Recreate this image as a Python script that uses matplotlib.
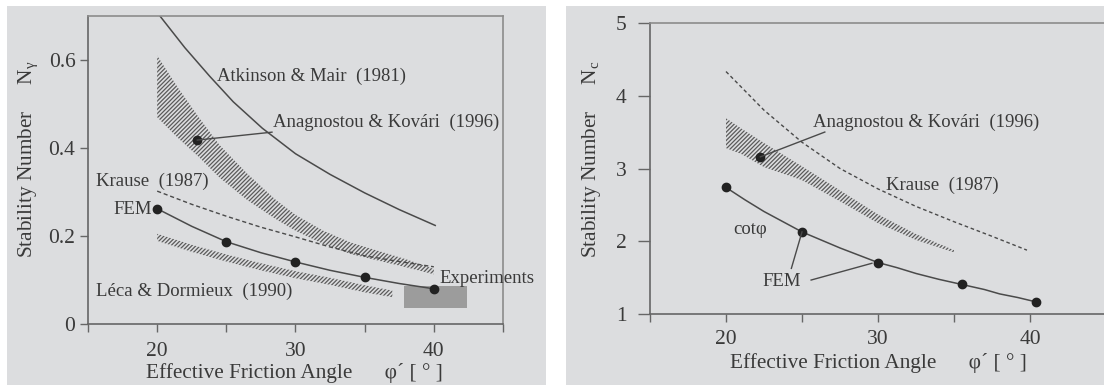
import matplotlib
matplotlib.use("Agg")
import matplotlib.pyplot as plt
from matplotlib.patches import Rectangle

plt.rcParams["font.family"] = ["Liberation Serif", "DejaVu Serif"]
plt.rcParams["mathtext.fontset"] = "custom"
plt.rcParams["mathtext.rm"] = "Liberation Serif"
plt.rcParams["mathtext.it"] = "Liberation Serif:italic"
plt.rcParams["hatch.linewidth"] = 0.9

# ---------------- left panel: N_gamma ----------------
phi_am = [20.2, 22.0, 23.8, 25.5, 27.6, 30.0, 32.5, 35.0, 37.5, 40.1]
ng_am = [0.700, 0.628, 0.563, 0.505, 0.445, 0.387, 0.340, 0.298, 0.260, 0.224]

phi_ak_l = [20, 21.5, 23, 24.5, 26.5, 28.5, 30, 32, 34, 36, 38, 40]
ng_ak_hi = [0.61, 0.537, 0.47, 0.407, 0.342, 0.284, 0.248, 0.212, 0.185, 0.166, 0.147, 0.125]
ng_ak_lo = [0.47, 0.423, 0.38, 0.333, 0.282, 0.24, 0.212, 0.182, 0.159, 0.144, 0.129, 0.113]
ak_pt_l = (22.9, 0.418)

phi_kr_l = [20, 22.5, 25, 27.5, 30, 32.5, 35, 37.5, 40]
ng_kr = [0.302, 0.272, 0.245, 0.220, 0.198, 0.175, 0.155, 0.142, 0.130]

phi_fem_l = [20, 25, 30, 35, 40]
ng_fem = [0.262, 0.187, 0.141, 0.106, 0.080]
phi_fem_l_line = [20, 22.5, 25, 27.5, 30, 32.5, 35, 37.5, 40]
ng_fem_line = [0.262, 0.222, 0.187, 0.162, 0.141, 0.122, 0.106, 0.092, 0.080]

phi_ld = [20, 22.5, 25, 27.5, 30, 32.5, 35, 37]
ng_ld_hi = [0.205, 0.180, 0.158, 0.138, 0.120, 0.105, 0.088, 0.076]
ng_ld_lo = [0.189, 0.164, 0.142, 0.122, 0.104, 0.089, 0.072, 0.061]

exp_phi = (37.85, 42.4)
exp_ng = (0.036, 0.087)

# ---------------- right panel: N_c ----------------
phi_kr_r = [20, 22.5, 25, 27.5, 30, 32.5, 35, 37.5, 39.8]
nc_kr = [4.33, 3.80, 3.36, 3.00, 2.72, 2.48, 2.27, 2.07, 1.88]

phi_ak_r = [20, 21, 22.5, 25, 27.5, 30, 32.5, 35]
nc_ak_hi = [3.69, 3.55, 3.35, 3.03, 2.70, 2.37, 2.10, 1.88]
nc_ak_lo = [3.28, 3.20, 3.02, 2.84, 2.55, 2.25, 2.02, 1.85]
ak_pt_r = (22.26, 3.16)

phi_fem_r = [20, 25, 30, 35.5, 40.4]
nc_fem = [2.74, 2.13, 1.71, 1.41, 1.17]
phi_cot = [20, 21.25, 22.5, 23.75, 25, 26.25, 27.5, 28.75, 30, 31.25,
           32.5, 34, 35.5, 37, 38, 39.2, 40.4]
nc_cot = [2.74, 2.57, 2.41, 2.27, 2.13, 2.02, 1.91, 1.81, 1.71, 1.64,
          1.56, 1.48, 1.41, 1.34, 1.28, 1.23, 1.17]

xticks_major = [20, 30, 40]
xticks_all = [15, 20, 25, 30, 35, 40, 45]

BG = "#dcdddf"
INK = "#3a3a3a"
LINE = "#4a4a4a"
HATCH = "#5a5a5a"
FRAME = "#8c8c8c"

W, H = 1104, 385
fig = plt.figure(figsize=(W / 100, H / 100), dpi=100, facecolor="white")


def px_rect(x0, y0, x1, y1):
    return [x0 / W, 1 - y1 / H, (x1 - x0) / W, (y1 - y0) / H]


for (x0, x1) in [(7, 546), (566, 1104)]:
    fig.patches.append(Rectangle((x0 / W, 0), (x1 - x0) / W, 1 - 6 / H,
                                 transform=fig.transFigure, facecolor=BG,
                                 edgecolor="none", zorder=-5))

axL = fig.add_axes(px_rect(88, 16, 503, 324))
axR = fig.add_axes(px_rect(650, 22.7, 1106, 314.3))

for ax in (axL, axR):
    ax.set_facecolor("none")
    ax.set_xlim(15, 45)
    ax.set_xticks(xticks_all)
    ax.set_xticklabels(["" if t not in xticks_major else str(t) for t in xticks_all])
    ax.tick_params(direction="out", length=6, width=1, color="#666666",
                   labelcolor=INK, labelsize=15.5)
    ax.spines["left"].set_color("#666666")
    ax.spines["bottom"].set_color("#666666")
    ax.spines["top"].set_color(FRAME)
    ax.spines["right"].set_color(FRAME)
    for s in ax.spines.values():
        s.set_linewidth(1.2)

# left panel
axL.set_ylim(0, 0.7)
axL.set_yticks([0, 0.2, 0.4, 0.6])
axL.set_yticklabels(["0", "0.2", "0.4", "0.6"])
axL.tick_params(axis="y", pad=3)
axL.tick_params(axis="x", pad=7)

axL.plot(phi_am, ng_am, color=LINE, lw=1.1)
axL.fill_between(phi_ak_l, ng_ak_lo, ng_ak_hi, facecolor="none",
                 edgecolor=HATCH, hatch="////////", lw=0)
axL.plot(phi_kr_l, ng_kr, color=LINE, lw=1.0, ls=(0, (3, 2)))
axL.plot(phi_fem_l_line, ng_fem_line, color=LINE, lw=1.1)
axL.plot(phi_fem_l, ng_fem, "o", color="#222222", ms=6)
axL.fill_between(phi_ld, ng_ld_lo, ng_ld_hi, facecolor="none",
                 edgecolor=HATCH, hatch="////////", lw=0)
axL.add_patch(Rectangle((exp_phi[0], exp_ng[0]), exp_phi[1] - exp_phi[0],
                        exp_ng[1] - exp_ng[0], facecolor="#9c9c9c",
                        edgecolor="none", clip_on=False, zorder=1))
axL.plot(*ak_pt_l, "o", color="#222222", ms=6)
axL.plot([ak_pt_l[0], 28.3], [ak_pt_l[1], 0.436], color=LINE, lw=1.0)

tk = dict(color=INK, fontsize=13.5, va="center")
axL.text(24.3, 0.563, "Atkinson & Mair  (1981)", **tk)
axL.text(28.4, 0.458, "Anagnostou & Kovári  (1996)", **tk)
axL.text(15.55, 0.325, "Krause  (1987)", **tk)
axL.text(19.6, 0.26, "FEM", ha="right", **tk)
axL.text(15.55, 0.074, "Léca & Dormieux  (1990)", **tk)
axL.text(40.4, 0.104, "Experiments", clip_on=False, **tk)

axL.set_xlabel("Effective Friction Angle      φ´ [ ° ]", fontsize=15.3, color=INK)
axL.xaxis.set_label_coords(0.4976, -0.159)
axL.xaxis.label.set_va("center")
axL.set_ylabel(r"Stability Number     $\mathrm{N}_{\mathrm{\gamma}}$", fontsize=15.3, color=INK)
axL.yaxis.set_label_coords(-0.143, 0.535)
axL.yaxis.label.set_va("center")

# right panel
axR.set_ylim(1, 5)
axR.set_yticks([1, 2, 3, 4, 5])
axR.tick_params(axis="y", pad=8, length=9)
axR.tick_params(axis="x", pad=5)
axR.spines["right"].set_visible(False)

axR.plot(phi_kr_r, nc_kr, color=LINE, lw=1.0, ls=(0, (2.6, 2)))
axR.fill_between(phi_ak_r, nc_ak_lo, nc_ak_hi, facecolor="none",
                 edgecolor=HATCH, hatch="////////", lw=0)
axR.plot(phi_cot, nc_cot, color=LINE, lw=1.1)
axR.plot(phi_fem_r, nc_fem, "o", color="#222222", ms=6)
axR.plot(*ak_pt_r, "o", color="#222222", ms=6)
axR.plot([ak_pt_r[0], 26.5], [ak_pt_r[1], 3.50], color=LINE, lw=1.0)
axR.plot([24.3, phi_fem_r[1]], [1.63, nc_fem[1]], color=LINE, lw=1.0)
axR.plot([25.6, 29.6], [1.47, 1.70], color=LINE, lw=1.0)

axR.text(25.7, 3.64, "Anagnostou & Kovári  (1996)", **tk)
axR.text(30.5, 2.77, "Krause  (1987)", **tk)
axR.text(20.45, 2.16, "cotφ", **tk)
axR.text(22.4, 1.45, "FEM", **tk)

axR.set_xlabel("Effective Friction Angle      φ´ [ ° ]", fontsize=15.3, color=INK)
axR.xaxis.set_label_coords(0.501, -0.167)
axR.xaxis.label.set_va("center")
axR.set_ylabel(r"Stability Number     $\mathrm{N}_{\mathrm{c}}$", fontsize=15.3, color=INK)
axR.yaxis.set_label_coords(-0.129, 0.533)
axR.yaxis.label.set_va("center")

fig.savefig("out.png", dpi=100, facecolor="white")
